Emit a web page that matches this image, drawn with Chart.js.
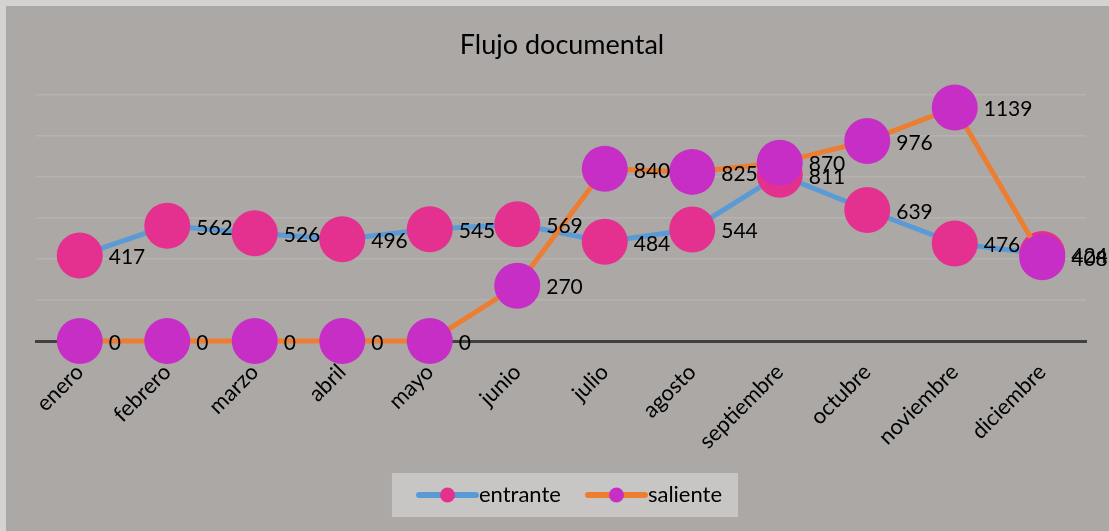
<!DOCTYPE html>
<html>
<head>
<meta charset="utf-8">
<script src="https://cdn.jsdelivr.net/npm/chart.js@4.4.0/dist/chart.umd.min.js"></script>
<style>
  html, body { margin: 0; padding: 0; background: #d4d3d2; }
</style>
</head>
<body>
<canvas id="flujo" width="1109" height="531"></canvas>
<script>
const meses = ['enero', 'febrero', 'marzo', 'abril', 'mayo', 'junio', 'julio',
  'agosto', 'septiembre', 'octubre', 'noviembre', 'diciembre'];
const entrante = [417, 562, 526, 496, 545, 569, 484, 544, 811, 639, 476, 424];
const saliente = [0, 0, 0, 0, 0, 270, 840, 825, 870, 976, 1139, 408];
const yMax = 1200;
const yStep = 200;

const FONT = 'Lato, "Open Sans", sans-serif';

// line + dot icon for the legend (line shifted right so the spacing looks like the original)
function legendIcon(lineColor, dotColor) {
  const c = document.createElement('canvas');
  c.width = 90; c.height = 18;
  const ctx = c.getContext('2d');
  ctx.strokeStyle = lineColor;
  ctx.lineWidth = 6;
  ctx.lineCap = 'round';
  ctx.beginPath();
  ctx.moveTo(29, 9); ctx.lineTo(86, 9);
  ctx.stroke();
  ctx.fillStyle = dotColor;
  ctx.beginPath();
  ctx.arc(57.5, 9, 7.5, 0, Math.PI * 2);
  ctx.fill();
  return c;
}
const icons = [legendIcon('#5b9bd5', '#e4308e'), legendIcon('#ed7d31', '#c62ec6')];

const fondo = {
  id: 'fondo',
  beforeDraw(chart) {
    const ctx = chart.ctx;
    ctx.save();
    ctx.fillStyle = '#d4d3d2';
    ctx.fillRect(0, 0, chart.width, chart.height);
    ctx.fillStyle = '#aca8a6';
    ctx.fillRect(6, 6, chart.width - 6, chart.height - 6);
    // legend box
    const hb = chart.legend.legendHitBoxes;
    if (hb && hb.length) {
      const first = hb[0], last = hb[hb.length - 1];
      const cy = first.top + first.height / 2;
      const x0 = first.left - 10;
      const x1 = last.left + last.width + 16;
      ctx.fillStyle = '#c8c6c4';
      ctx.fillRect(x0, cy - 22, x1 - x0, 44);
    }
    ctx.restore();
  }
};

const etiquetas = {
  id: 'etiquetas',
  afterDatasetsDraw(chart) {
    const ctx = chart.ctx;
    ctx.save();
    ctx.font = '21px ' + FONT;
    ctx.fillStyle = '#000';
    ctx.textAlign = 'left';
    ctx.textBaseline = 'middle';
    chart.data.datasets.forEach((ds, i) => {
      chart.getDatasetMeta(i).data.forEach((pt, j) => {
        ctx.fillText(String(ds.data[j]), pt.x + 29, pt.y + 2);
      });
    });
    ctx.restore();
  }
};

new Chart(document.getElementById('flujo'), {
  type: 'line',
  data: {
    labels: meses,
    datasets: [{
      label: 'entrante',
      data: entrante,
      borderColor: '#5b9bd5',
      borderWidth: 5,
      pointBackgroundColor: '#e4308e',
      pointBorderColor: '#e4308e',
      pointRadius: 23,
      pointBorderWidth: 0,
      tension: 0,
      clip: false,
      order: 1
    }, {
      label: 'saliente',
      data: saliente,
      borderColor: '#ed7d31',
      borderWidth: 5,
      pointBackgroundColor: '#c62ec6',
      pointBorderColor: '#c62ec6',
      pointRadius: 23,
      pointBorderWidth: 0,
      tension: 0,
      clip: false,
      order: 0
    }]
  },
  options: {
    responsive: false,
    animation: false,
    events: [],
    layout: { padding: { left: 36, right: 21, top: 29, bottom: 15 } },
    scales: {
      x: {
        offset: true,
        grid: { display: false, drawTicks: false },
        border: { display: true, color: '#404040', width: 3 },
        ticks: {
          autoSkip: false,
          minRotation: 45,
          maxRotation: 45,
          padding: 18,
          color: '#000',
          font: { family: FONT, size: 22 }
        },
        afterFit(scale) { scale.height = 133; }
      },
      y: {
        min: 0,
        max: yMax,
        grid: { color: '#b5b2b0', lineWidth: 1.5, drawTicks: false },
        border: { display: false },
        ticks: { display: false, stepSize: yStep },
        afterFit(scale) { scale.width = 0; }
      }
    },
    plugins: {
      title: {
        display: true,
        text: 'Flujo documental',
        color: '#000',
        font: { family: FONT, size: 27, weight: 'normal' },
        padding: { top: 0, bottom: 33.6 }
      },
      legend: {
        position: 'bottom',
        labels: {
          usePointStyle: true,
          pointStyleWidth: 66,
          boxHeight: 18,
          padding: 10,
          color: '#000',
          font: { family: FONT, size: 22 },
          sort: (a, b) => a.datasetIndex - b.datasetIndex,
          generateLabels(chart) {
            const items = Chart.defaults.plugins.legend.labels.generateLabels(chart);
            items.forEach(it => { it.pointStyle = icons[it.datasetIndex]; });
            return items;
          }
        }
      },
      tooltip: { enabled: false }
    }
  },
  plugins: [fondo, etiquetas]
});
</script>
</body>
</html>
